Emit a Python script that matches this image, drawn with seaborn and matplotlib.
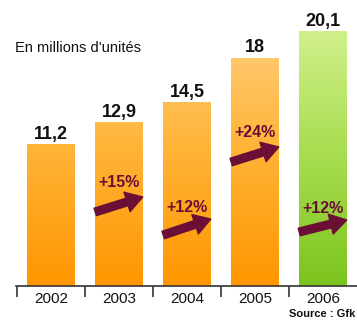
import numpy as np
import pandas as pd
import matplotlib
matplotlib.use("Agg")
import matplotlib.pyplot as plt
import seaborn as sns
from matplotlib.colors import LinearSegmentedColormap

years = ["2002", "2003", "2004", "2005", "2006"]
values = [11.2, 12.9, 14.5, 18.0, 20.1]
value_labels = ["11,2", "12,9", "14,5", "18", "20,1"]
growth_labels = ["", "+15%", "+12%", "+24%", "+12%"]
subtitle = "En millions d'unités"
source = "Source : Gfk"

# layout of the growth arrows (y positions in axis units)
arrow_start_y = [None, 5.84, 4.02, 9.78, 4.26]
arrow_end_y = [None, 7.02, 5.28, 10.96, 5.20]
growth_text_y = [None, 8.2, 6.23, 12.07, 6.15]

sns.set_theme(style="white")
plt.rcParams["font.family"] = ["Liberation Sans", "DejaVu Sans"]

df = pd.DataFrame({"year": years, "value": values})

fig = plt.figure(figsize=(3.57, 3.22), dpi=100)
fig.patch.set_facecolor("white")
W, H = 357, 322
ax = fig.add_axes([16 / W, 36 / H, (357 - 16) / W, 286 / H])
ax.set_facecolor("none")

sns.barplot(data=df, x="year", y="value", ax=ax, width=0.7,
            color="#FFA500", saturation=1, edgecolor="none")
ax.set_xlim(-0.515, 4.5)
ymax = 286 / 12.68
ax.set_ylim(0, ymax)

orange = LinearSegmentedColormap.from_list("o", ["#FF9600", "#FFB53A", "#FFD48C"])
green = LinearSegmentedColormap.from_list("g", ["#7CC41E", "#A6DC4E", "#D0F08A"])
grad = np.linspace(0, 1, 256).reshape(-1, 1)
n = len(ax.patches)
for i, p in enumerate(ax.patches):
    x0, w, h = p.get_x(), p.get_width(), p.get_height()
    p.set_facecolor("none")
    last = i == n - 1
    cmap = green if last else orange
    ext = [x0, x0 + w, 0, h if last else ymax]
    im = ax.imshow(grad, extent=ext, origin="lower", aspect="auto", cmap=cmap,
                   zorder=1)
    im.set_clip_path(p)

ax.bar_label(ax.containers[0], labels=value_labels, padding=1,
             fontsize=13, fontweight="bold", color="#111111")

arrow_col = "#6B0F36"
for i in range(len(years)):
    if not growth_labels[i]:
        continue
    p = ax.patches[i]
    x0, w = p.get_x(), p.get_width()
    ax.annotate("", xy=(x0 + w, arrow_end_y[i]), xytext=(x0, arrow_start_y[i]),
                arrowprops=dict(arrowstyle="simple,head_length=0.85,head_width=1.05,tail_width=0.4",
                                color=arrow_col, mutation_scale=14,
                                shrinkA=0, shrinkB=0), zorder=3)
    ax.text(x0 + w / 2, growth_text_y[i], growth_labels[i], ha="center", va="center",
            fontsize=11.5, fontweight="bold", color=arrow_col, zorder=3)

for s in ["top", "right", "left"]:
    ax.spines[s].set_visible(False)
ax.spines["bottom"].set_color("#333333")
ax.spines["bottom"].set_linewidth(1.2)
ax.set_yticks([])
ax.set_xlabel("")
ax.set_ylabel("")
ax.set_xticks(range(len(years)))
ax.set_xticklabels(years, fontsize=11, color="#111111")
ax.tick_params(axis="x", which="major", length=0, pad=4)
ax.set_xticks([-0.5 + k for k in range(len(years))], minor=True)
ax.tick_params(axis="x", which="minor", length=8, width=1.2, color="#333333",
               direction="out", bottom=True)

fig.text(15 / W, 1 - 48 / H, subtitle, fontsize=10.5, color="#111111",
         ha="left", va="center")
fig.text(355 / W, 1 - 314 / H, source, fontsize=8, fontweight="bold",
         color="#111111", ha="right", va="center")

fig.savefig("out.png", dpi=100)
